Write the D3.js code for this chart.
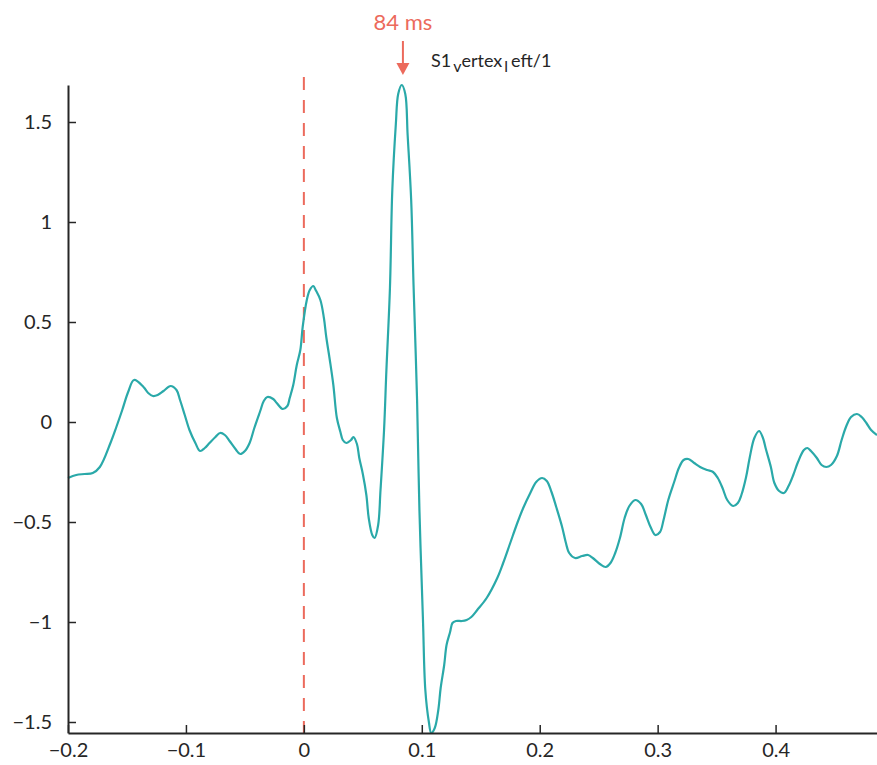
<!DOCTYPE html>
<html>
<head>
<meta charset="utf-8">
<script src="https://cdn.jsdelivr.net/npm/d3@7"></script>
<style>
    body { margin: 0; background: #fff; }
    svg { display: block; font-family: Lato, "Open Sans", sans-serif; }
</style>
</head>
<body>
<div id="chart"></div>
<script>
// time in seconds
const times = [
    -0.200, -0.193, -0.186, -0.179, -0.173, -0.164, -0.159, -0.154, -0.149, -0.144,
    -0.136, -0.132, -0.128, -0.124, -0.119, -0.113, -0.108, -0.105, -0.101, -0.097,
    -0.092, -0.088, -0.084, -0.080, -0.075, -0.071, -0.067, -0.063, -0.058, -0.054,
    -0.050, -0.046, -0.042, -0.037, -0.034, -0.031, -0.026, -0.023, -0.018, -0.014,
    -0.012, -0.009, -0.006, -0.003, -0.001, 0.0025, 0.005, 0.008, 0.010, 0.014,
    0.017, 0.019, 0.022, 0.025, 0.028, 0.031, 0.033, 0.036, 0.040, 0.042,
    0.045, 0.047, 0.050, 0.053, 0.055, 0.058, 0.060, 0.063, 0.065, 0.068,
    0.070, 0.073, 0.075, 0.078, 0.080, 0.083, 0.086, 0.088, 0.091, 0.093,
    0.096, 0.098, 0.101, 0.103, 0.106, 0.108, 0.111, 0.114, 0.116, 0.119,
    0.121, 0.124, 0.126, 0.129, 0.134, 0.138, 0.142, 0.147, 0.155, 0.164,
    0.169, 0.175, 0.181, 0.186, 0.192, 0.197, 0.202, 0.206, 0.210, 0.214,
    0.219, 0.222, 0.225, 0.230, 0.236, 0.241, 0.245, 0.251, 0.256, 0.260,
    0.264, 0.268, 0.272, 0.276, 0.281, 0.286, 0.290, 0.294, 0.298, 0.302,
    0.305, 0.309, 0.314, 0.318, 0.322, 0.326, 0.331, 0.336, 0.342, 0.347,
    0.351, 0.355, 0.359, 0.364, 0.368, 0.371, 0.375, 0.378, 0.382, 0.386,
    0.389, 0.392, 0.396, 0.399, 0.403, 0.407, 0.411, 0.415, 0.419, 0.424,
    0.427, 0.430, 0.435, 0.439, 0.443, 0.447, 0.452, 0.456, 0.460, 0.464,
    0.469, 0.473, 0.477, 0.481, 0.486
];
const amplitude = [
    -0.280, -0.265, -0.260, -0.255, -0.225, -0.105, -0.025, 0.060, 0.150, 0.210,
    0.175, 0.145, 0.130, 0.135, 0.155, 0.180, 0.160, 0.110, 0.035, -0.040,
    -0.105, -0.145, -0.130, -0.105, -0.075, -0.055, -0.065, -0.095, -0.135, -0.160,
    -0.145, -0.105, -0.030, 0.055, 0.105, 0.125, 0.115, 0.095, 0.065, 0.080,
    0.120, 0.185, 0.285, 0.360, 0.475, 0.610, 0.660, 0.680, 0.660, 0.610,
    0.520, 0.425, 0.310, 0.185, 0.020, -0.050, -0.090, -0.105, -0.090, -0.075,
    -0.110, -0.180, -0.260, -0.365, -0.480, -0.565, -0.580, -0.515, -0.340, -0.040,
    0.260, 0.670, 1.160, 1.490, 1.640, 1.685, 1.640, 1.435, 1.110, 0.685,
    0.110, -0.440, -0.990, -1.340, -1.500, -1.555, -1.530, -1.440, -1.330, -1.215,
    -1.115, -1.050, -1.005, -0.995, -0.995, -0.990, -0.975, -0.940, -0.880, -0.780,
    -0.705, -0.605, -0.505, -0.430, -0.355, -0.300, -0.280, -0.295, -0.350, -0.425,
    -0.525, -0.600, -0.655, -0.680, -0.670, -0.665, -0.680, -0.710, -0.725, -0.705,
    -0.655, -0.580, -0.480, -0.420, -0.390, -0.410, -0.465, -0.525, -0.565, -0.550,
    -0.490, -0.390, -0.300, -0.230, -0.190, -0.185, -0.205, -0.225, -0.240, -0.250,
    -0.280, -0.330, -0.390, -0.420, -0.405, -0.365, -0.275, -0.180, -0.080, -0.045,
    -0.075, -0.140, -0.225, -0.305, -0.345, -0.355, -0.320, -0.265, -0.200, -0.140,
    -0.130, -0.145, -0.180, -0.215, -0.225, -0.215, -0.170, -0.090, -0.020, 0.025,
    0.040, 0.025, -0.005, -0.040, -0.065
];
const xTicks = [-0.2, -0.1, 0, 0.1, 0.2, 0.3, 0.4];
const xTickLabels = ["−0.2", "−0.1", "0", "0.1", "0.2", "0.3", "0.4"];
const yTicks = [-1.5, -1, -0.5, 0, 0.5, 1, 1.5];
const yTickLabels = ["−1.5", "−1", "−0.5", "0", "0.5", "1", "1.5"];
const peakTime = 0.084;
const peakLabel = "84 ms";

const width = 877, height = 765;
const margin = { left: 68, right: 0, top: 85, bottom: 32 };
const teal = "#2aa9a9";
const coral = "#ec6a5c";
const ink = "#262626";

const d = times.map((t, i) => ({ time: t, amp: amplitude[i] }));

const svg = d3.select("#chart")
    .append("svg")
    .attr("width", width)
    .attr("height", height);

const x_scale = d3.scaleLinear()
    .domain(d3.extent(times))
    .range([margin.left, width - margin.right]);
const y_scale = d3.scaleLinear()
    .domain(d3.extent(amplitude))
    .range([height - margin.bottom, margin.top]);

// dashed stimulus onset
svg.append("line")
    .attr("x1", x_scale(0)).attr("x2", x_scale(0))
    .attr("y1", 77).attr("y2", height - margin.bottom)
    .attr("stroke", coral)
    .attr("stroke-width", 2)
    .attr("stroke-dasharray", "13,10");

// the trace
const line_generator = d3.line()
    .x(p => x_scale(p.time))
    .y(p => y_scale(p.amp))
    .curve(d3.curveCatmullRom.alpha(0.5));

svg.append("path")
    .datum(d)
    .attr("fill", "none")
    .attr("stroke", teal)
    .attr("stroke-width", 2.2)
    .attr("d", line_generator);

// axes
const x_axis = d3.axisBottom(x_scale)
    .tickValues(xTicks)
    .tickFormat((v, i) => xTickLabels[i])
    .tickSizeInner(-8)
    .tickSizeOuter(0)
    .tickPadding(10);

const y_axis = d3.axisLeft(y_scale)
    .tickValues(yTicks)
    .tickFormat((v, i) => yTickLabels[i])
    .tickSizeInner(-8)
    .tickSizeOuter(0)
    .tickPadding(16);

const gx = svg.append("g")
    .attr("transform", `translate(0,${height - margin.bottom})`)
    .call(x_axis);

const gy = svg.append("g")
    .attr("transform", `translate(${margin.left},0)`)
    .call(y_axis);

[gx, gy].forEach(g => {
    g.select(".domain").attr("stroke", ink).attr("stroke-width", 2);
    g.selectAll(".tick line").attr("stroke", ink).attr("stroke-width", 1.5);
    g.selectAll(".tick text")
        .attr("fill", ink)
        .style("font-family", "Lato, sans-serif")
        .style("font-size", "20px");
});

// peak annotation
const px = x_scale(peakTime);
svg.append("text")
    .attr("x", px)
    .attr("y", 30)
    .attr("text-anchor", "middle")
    .attr("fill", coral)
    .style("font-size", "22px")
    .text(peakLabel);

svg.append("line")
    .attr("x1", px).attr("x2", px)
    .attr("y1", 41).attr("y2", 64)
    .attr("stroke", coral)
    .attr("stroke-width", 2);

svg.append("path")
    .attr("d", `M${px - 6.5},63 L${px + 6.5},63 L${px},75 Z`)
    .attr("fill", coral);

// channel name, tex style subscripts
const name = svg.append("text")
    .attr("x", 431)
    .attr("y", 67)
    .attr("fill", ink)
    .style("font-size", "18px");
name.append("tspan").text("S1");
name.append("tspan").attr("dx", 2).attr("dy", 5).style("font-size", "16px").text("v");
name.append("tspan").attr("dy", -5).text("ertex");
name.append("tspan").attr("dx", 2).attr("dy", 5).style("font-size", "16px").text("l");
name.append("tspan").attr("dx", 3).attr("dy", -5).text("eft/1");
</script>
</body>
</html>
